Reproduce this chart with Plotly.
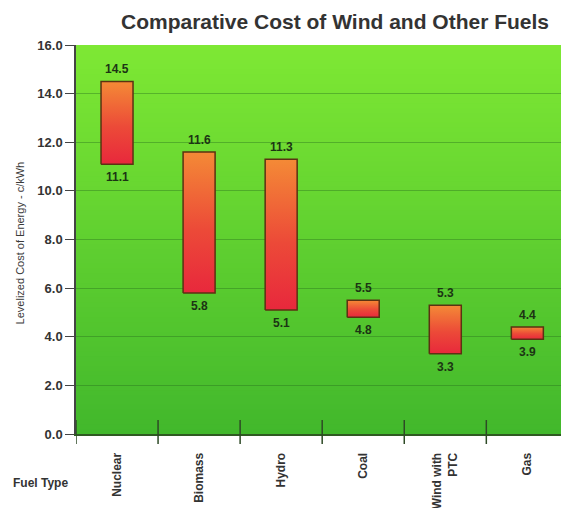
import plotly.graph_objects as go

# Levelized cost ranges (cents per kWh) by fuel type
fuel_types = ["Nuclear", "Biomass", "Hydro", "Coal", "Wind with<br>PTC", "Gas"]
cost_low = [11.1, 5.8, 5.1, 4.8, 3.3, 3.9]
cost_high = [14.5, 11.6, 11.3, 5.5, 5.3, 4.4]
y_ticks = [0, 2, 4, 6, 8, 10, 12, 14, 16]

FONT = "Liberation Sans, Arial, sans-serif"
BAR_HALF = 0.195
X_RANGE = [-0.5, 5.41]
Y_RANGE = [0, 16]
PLOT_W = 485  # plot area width in px
PLOT_H = 389  # plot area height in px, used to size the crossing tick marks


def lerp_color(c0, c1, t):
    a = [int(c0[i:i + 2], 16) for i in (1, 3, 5)]
    b = [int(c1[i:i + 2], 16) for i in (1, 3, 5)]
    return "rgb({},{},{})".format(*[round(a[k] + (b[k] - a[k]) * t) for k in range(3)])


fig = go.Figure()

# Floating range bars with an orange-to-red vertical gradient
for i, (lo, hi) in enumerate(zip(cost_low, cost_high)):
    fig.add_trace(go.Scatter(
        x=[i - BAR_HALF, i + BAR_HALF, i + BAR_HALF, i - BAR_HALF, i - BAR_HALF],
        y=[lo, lo, hi, hi, lo],
        mode="lines",
        fill="toself",
        fillgradient=dict(type="vertical",
                          colorscale=[[0, "#e8283c"], [0.45, "#ec4a38"], [1, "#f48a36"]]),
        line=dict(color="#5b3212", width=1.5),
        hoverinfo="skip",
        showlegend=False,
    ))

# Value labels above and below each bar
annotations = []
for i, (lo, hi) in enumerate(zip(cost_low, cost_high)):
    for val, shift in ((hi, 12), (lo, -13)):
        annotations.append(dict(
            x=i, y=val, xref="x", yref="y", text=f"{val:.1f}", showarrow=False,
            yshift=shift, xanchor="center", yanchor="middle",
            font=dict(family=FONT, size=12, color="#1c3414", weight="bold"),
        ))

# Axis title and x-axis caption
annotations.append(dict(
    x=-56 / PLOT_W, y=0.49, xref="paper", yref="paper", text="Levelized Cost of Energy - c/kWh",
    textangle=-90, showarrow=False, xanchor="center", yanchor="middle",
    font=dict(family=FONT, size=11, color="#3a3a3a"),
))
annotations.append(dict(
    x=-36 / PLOT_W, y=-49 / PLOT_H, xref="paper", yref="paper", text="Fuel Type",
    showarrow=False, xanchor="center", yanchor="middle",
    font=dict(family=FONT, size=12, color="#333333", weight="bold"),
))

# Green vertical gradient background drawn as overlapping bands under the gridlines
shapes = []
n_bands = 80
for k in range(n_bands):
    t = k / (n_bands - 1)
    shapes.append(dict(
        type="rect", xref="paper", yref="paper",
        x0=0, x1=1, y0=k / n_bands, y1=min(1.0, (k + 1.6) / n_bands),
        fillcolor=lerp_color("#42b82c", "#7ee834", t),
        line=dict(width=0), layer="below",
    ))

# Category boundary ticks crossing the x-axis line
for b in range(len(fuel_types)):
    shapes.append(dict(
        type="line", xref="x", yref="paper",
        x0=b - 0.5, x1=b - 0.5, y0=-10 / PLOT_H, y1=14 / PLOT_H,
        line=dict(color="#2e4a26", width=1.5), layer="above",
    ))

fig.update_layout(
    width=561, height=508,
    margin=dict(l=76, r=0, t=45, b=74),
    paper_bgcolor="white",
    plot_bgcolor="rgba(0,0,0,0)",
    title=dict(
        text="Comparative Cost of Wind and Other Fuels",
        x=335 / 561, xref="container", xanchor="center",
        y=1 - 22 / 508, yref="container", yanchor="middle",
        font=dict(family=FONT, size=21, color="#333333", weight="bold"),
    ),
    xaxis=dict(
        range=X_RANGE, tickmode="array",
        tickvals=list(range(len(fuel_types))), ticktext=fuel_types,
        tickangle=-90, ticks="", ticklabelstandoff=12,
        tickfont=dict(family=FONT, size=12, color="#333333", weight="bold"),
        showgrid=False, zeroline=False,
        showline=True, linecolor="#2f5a22", linewidth=2,
        fixedrange=True,
    ),
    yaxis=dict(
        range=Y_RANGE, tickmode="array", tickvals=y_ticks,
        ticktext=[f"{v:.1f}" for v in y_ticks],
        ticks="outside", ticklen=9, tickcolor="#444444", tickwidth=1.2,
        tickfont=dict(family=FONT, size=13, color="#333333", weight="bold"),
        showgrid=True, gridcolor="rgba(40,110,30,0.4)", gridwidth=1,
        zeroline=False,
        showline=True, linecolor="#444444", linewidth=1.5,
        fixedrange=True,
    ),
    annotations=annotations,
    shapes=shapes,
    showlegend=False,
)

fig.write_html("out.html")
